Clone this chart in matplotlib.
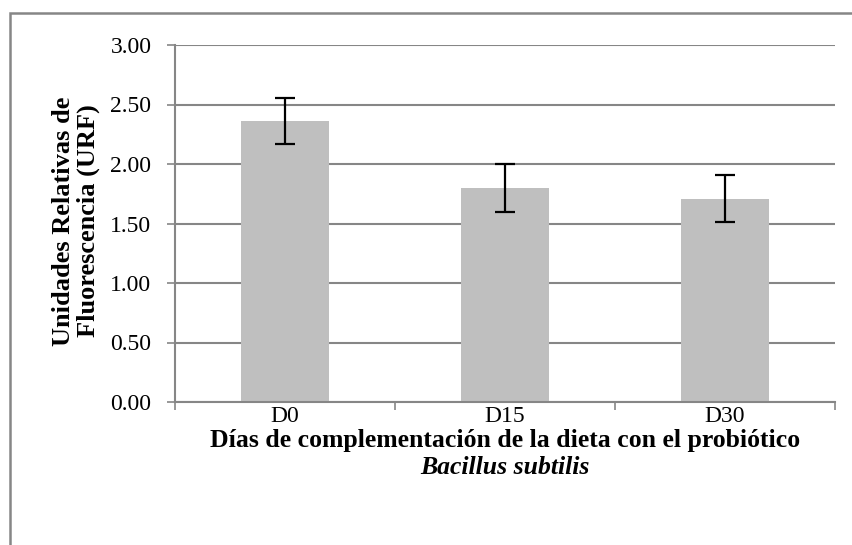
import numpy as np
import matplotlib.pyplot as plt
from matplotlib.patches import Rectangle

# data
categories = ["D0", "D15", "D30"]
means = [2.36, 1.80, 1.71]
errors = [0.195, 0.20, 0.20]
yticks = [0.0, 0.5, 1.0, 1.5, 2.0, 2.5, 3.0]

plt.rcParams['font.family'] = ['Liberation Serif', 'DejaVu Serif']

fig = plt.figure(figsize=(8.53, 5.45), dpi=100)
ax = fig.add_axes([175 / 853, 1 - 402 / 545, 660 / 853, 357 / 545])

x = np.arange(len(categories))
ax.bar(x, means, width=0.4, color="#bfbfbf", zorder=2)
ax.errorbar(x, means, yerr=errors, fmt="none", ecolor="black",
            elinewidth=1.6, capsize=7, capthick=1.6, zorder=3)

ax.set_xlim(-0.5, len(categories) - 0.5)
ax.set_ylim(0, 3)
ax.set_yticks(yticks)
ax.set_yticklabels([f"{v:.2f}" for v in yticks], fontsize=17)
ax.set_xticks(x)
ax.set_xticklabels(categories, fontsize=17)
ax.set_xticks(np.arange(len(categories) + 1) - 0.5, minor=True)
ax.tick_params(axis="x", which="major", length=0, pad=3)
ax.tick_params(axis="x", which="minor", length=6, color="#868686", width=1.2)
ax.tick_params(axis="y", length=6, color="#868686", width=1.2, pad=11)

ax.grid(axis="y", color="#868686", linewidth=1.5, zorder=0)
ax.set_axisbelow(True)
for side in ["top", "right"]:
    ax.spines[side].set_visible(False)
for side in ["left", "bottom"]:
    ax.spines[side].set_color("#868686")
    ax.spines[side].set_linewidth(1.5)

fig.text(76 / 853, 1 - 221 / 545, "Unidades Relativas de\nFluorescencia (URF)",
         rotation=90, ha="center", va="center", multialignment="center",
         fontsize=19, fontweight="bold", linespacing=1.05)

cx = 0.5 * (175 + 835) / 853
fig.text(cx, 1 - 440 / 545,
         "Días de complementación de la dieta con el probiótico",
         ha="center", va="center", fontsize=18.5, fontweight="bold")
fig.text(cx, 1 - 467 / 545, "Bacillus subtilis",
         ha="center", va="center", fontsize=18.5, fontweight="bold",
         style="italic")

# outer frame: only top and left edges fall inside the picture
fig.patches.append(Rectangle((9.5 / 853, -0.05), 1.0, 1 - 13 / 545 + 0.05,
                             transform=fig.transFigure, fill=False,
                             edgecolor="#868686", linewidth=1.8))

fig.savefig("out.png", dpi=100)
